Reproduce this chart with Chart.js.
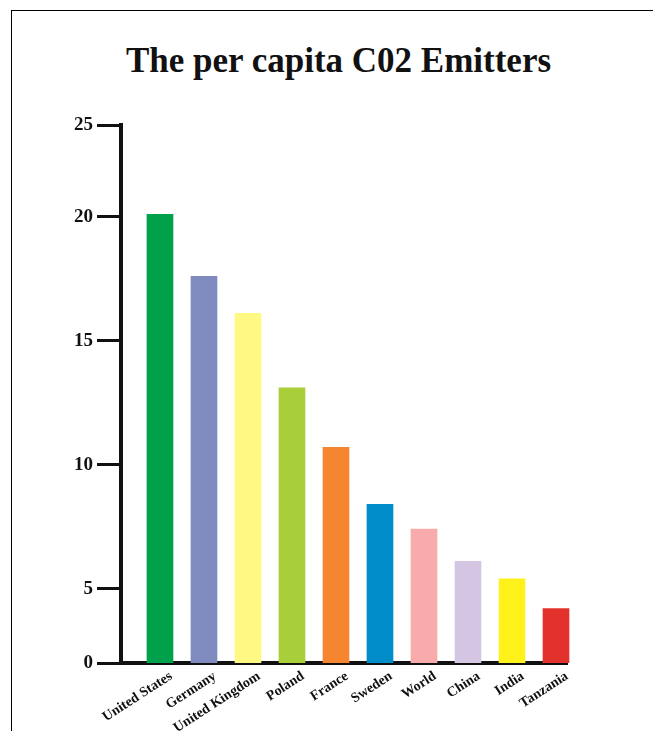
<!DOCTYPE html>
<html>
<head>
<meta charset="utf-8">
<script src="https://cdn.jsdelivr.net/npm/chart.js@4.4.1/dist/chart.umd.min.js"></script>
<style>
    body { margin: 0; background: #fff; }
    #frame { position: absolute; left: 11px; top: 10px; width: 660px; height: 740px;
             border-left: 1px solid #000; border-top: 1px solid #000; }
    #title { position: absolute; left: 0; top: 41px; width: 677px; text-align: center;
             font: bold 35px "Liberation Serif", serif; color: #111; margin: 0; }
    #wrap { position: absolute; left: 0; top: 0; width: 653px; height: 731px; }
</style>
</head>
<body>
<div id="frame"></div>
<h1 id="title">The per capita C02 Emitters</h1>
<div id="wrap"><canvas id="chart"></canvas></div>
<script>
// data
var categories = ['United States', 'Germany', 'United Kingdom', 'Poland', 'France',
                  'Sweden', 'World', 'China', 'India', 'Tanzania'];
var emissions = [20.1, 17.6, 16.1, 13.1, 10.7, 8.4, 7.4, 6.1, 5.4, 4.2];
var barColors = ['#00a14b', '#7f8abf', '#fff883', '#a8cf3a', '#f5862f',
                 '#008bc9', '#f9aaaa', '#d4c6e2', '#fff21a', '#e3322b'];

// the y axis of the original is not evenly spaced: "0" and "25" sit at the ends
var yTickValues = [2.0, 5, 10, 15, 20, 23.7];
var yTickLabels = ['0', '5', '10', '15', '20', '25'];

var ink = '#111';

var ctx = document.getElementById('chart');
new Chart(ctx, {
    type: 'bar',
    data: {
        datasets: [{
            data: emissions.map(function(v, i) { return {x: i, y: v}; }),
            backgroundColor: barColors,
            barThickness: 26,
            borderWidth: 0,
            // last bar may poke a little past the end of the axis line, like the original
            clip: { left: false, top: false, right: false, bottom: 0 }
        }]
    },
    options: {
        responsive: true,
        maintainAspectRatio: false,
        animation: false,
        layout: { padding: { top: 125, right: 86, left: 0, bottom: 0 } },
        plugins: {
            legend: { display: false },
            tooltip: { enabled: false }
        },
        scales: {
            x: {
                type: 'linear',
                offset: false,
                min: -0.886,
                max: 9.25,
                afterBuildTicks: function(scale) {
                    scale.ticks = categories.map(function(c, i) { return {value: i}; });
                },
                afterFit: function(scale) { scale.height = 68; },
                grid: { display: false, drawTicks: false },
                border: { display: true, color: ink, width: 4 },
                ticks: {
                    autoSkip: false,
                    minRotation: 33,
                    maxRotation: 33,
                    padding: 5,
                    labelOffset: 11,
                    color: ink,
                    font: { family: 'Liberation Serif', weight: 'bold', size: 14 },
                    callback: function(value) { return categories[value]; }
                }
            },
            y: {
                min: yTickValues[0],
                max: yTickValues[yTickValues.length - 1],
                afterBuildTicks: function(scale) {
                    scale.ticks = yTickValues.map(function(v) { return {value: v}; });
                },
                afterFit: function(scale) { scale.width = 121; },
                grid: { drawOnChartArea: false, drawTicks: true, tickLength: 24,
                        tickWidth: 3, color: ink },
                border: { display: true, color: ink, width: 4 },
                ticks: {
                    padding: 4,
                    color: ink,
                    font: { family: 'Liberation Serif', weight: 'bold', size: 19 },
                    callback: function(value, index) { return yTickLabels[index]; }
                }
            }
        }
    }
});
</script>
</body>
</html>
